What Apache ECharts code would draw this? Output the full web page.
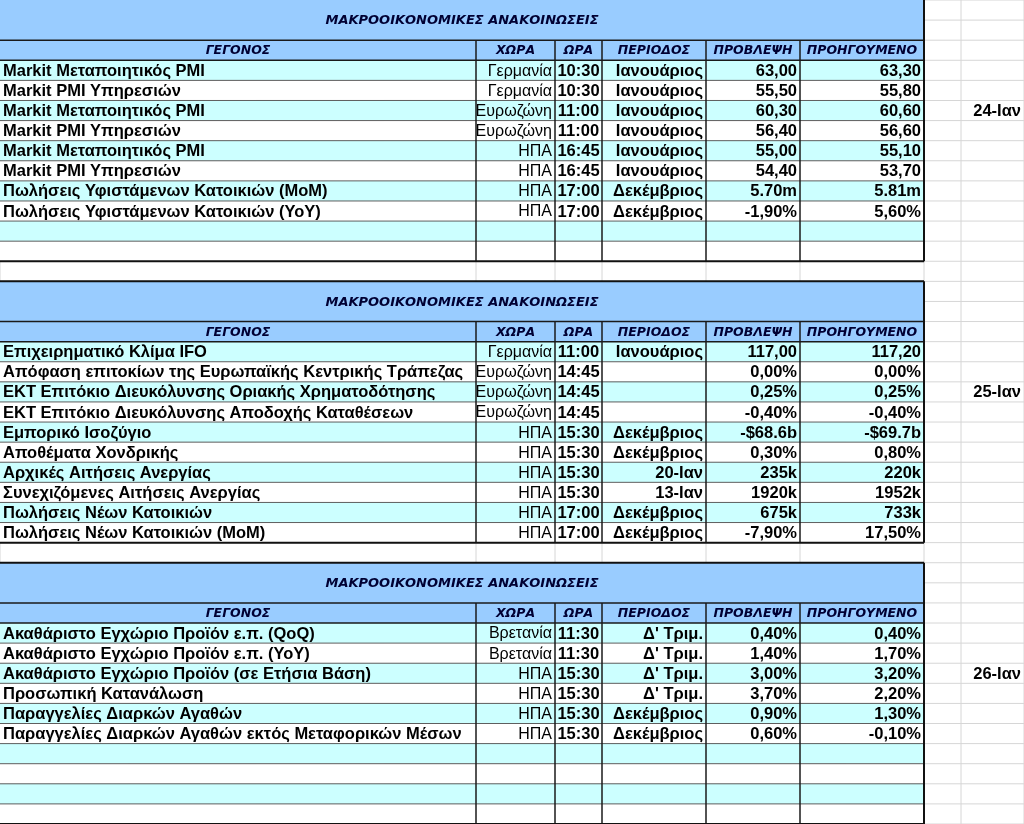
<!DOCTYPE html>
<html><head><meta charset="utf-8">
<script src="https://cdn.jsdelivr.net/npm/echarts@6/dist/echarts.min.js"></script>
<style>html,body{margin:0;padding:0;background:#fff}#c{width:1024px;height:824px}</style>
</head><body><div id="c"></div><script>
// ---------- DATA ----------
const tableTitle = 'ΜΑΚΡΟΟΙΚΟΝΟΜΙΚΕΣ ΑΝΑΚΟΙΝΩΣΕΙΣ';
const headers = ['ΓΕΓΟΝΟΣ', 'ΧΩΡΑ', 'ΩΡΑ', 'ΠΕΡΙΟΔΟΣ', 'ΠΡΟΒΛΕΨΗ', 'ΠΡΟΗΓΟΥΜΕΝΟ'];
const dates = ['24-Ιαν', '25-Ιαν', '26-Ιαν'];

const events1 = ['Markit Μεταποιητικός PMI', 'Markit PMI Υπηρεσιών', 'Markit Μεταποιητικός PMI', 'Markit PMI Υπηρεσιών',
  'Markit Μεταποιητικός PMI', 'Markit PMI Υπηρεσιών', 'Πωλήσεις Υφιστάμενων Κατοικιών (MoM)', 'Πωλήσεις Υφιστάμενων Κατοικιών (YoY)'];
const countries1 = ['Γερμανία', 'Γερμανία', 'Ευρωζώνη', 'Ευρωζώνη', 'ΗΠΑ', 'ΗΠΑ', 'ΗΠΑ', 'ΗΠΑ'];
const times1 = ['10:30', '10:30', '11:00', '11:00', '16:45', '16:45', '17:00', '17:00'];
const periods1 = ['Ιανουάριος', 'Ιανουάριος', 'Ιανουάριος', 'Ιανουάριος', 'Ιανουάριος', 'Ιανουάριος', 'Δεκέμβριος', 'Δεκέμβριος'];
const forecasts1 = ['63,00', '55,50', '60,30', '56,40', '55,00', '54,40', '5.70m', '-1,90%'];
const previous1 = ['63,30', '55,80', '60,60', '56,60', '55,10', '53,70', '5.81m', '5,60%'];

const events2 = ['Επιχειρηματικό Κλίμα IFO', 'Απόφαση επιτοκίων της Ευρωπαϊκής Κεντρικής Τράπεζας',
  'ΕΚΤ Επιτόκιο Διευκόλυνσης Οριακής Χρηματοδότησης', 'ΕΚΤ Επιτόκιο Διευκόλυνσης Αποδοχής Καταθέσεων',
  'Εμπορικό Ισοζύγιο', 'Αποθέματα Χονδρικής', 'Αρχικές Αιτήσεις Ανεργίας', 'Συνεχιζόμενες Αιτήσεις Ανεργίας',
  'Πωλήσεις Νέων Κατοικιών', 'Πωλήσεις Νέων Κατοικιών (MoM)'];
const countries2 = ['Γερμανία', 'Ευρωζώνη', 'Ευρωζώνη', 'Ευρωζώνη', 'ΗΠΑ', 'ΗΠΑ', 'ΗΠΑ', 'ΗΠΑ', 'ΗΠΑ', 'ΗΠΑ'];
const times2 = ['11:00', '14:45', '14:45', '14:45', '15:30', '15:30', '15:30', '15:30', '17:00', '17:00'];
const periods2 = ['Ιανουάριος', '', '', '', 'Δεκέμβριος', 'Δεκέμβριος', '20-Ιαν', '13-Ιαν', 'Δεκέμβριος', 'Δεκέμβριος'];
const forecasts2 = ['117,00', '0,00%', '0,25%', '-0,40%', '-$68.6b', '0,30%', '235k', '1920k', '675k', '-7,90%'];
const previous2 = ['117,20', '0,00%', '0,25%', '-0,40%', '-$69.7b', '0,80%', '220k', '1952k', '733k', '17,50%'];

const events3 = ['Ακαθάριστο Εγχώριο Προϊόν ε.π. (QoQ)', 'Ακαθάριστο Εγχώριο Προϊόν ε.π. (YoY)',
  'Ακαθάριστο Εγχώριο Προϊόν (σε Ετήσια Βάση)', 'Προσωπική Κατανάλωση', 'Παραγγελίες Διαρκών Αγαθών',
  'Παραγγελίες Διαρκών Αγαθών εκτός Μεταφορικών Μέσων'];
const countries3 = ['Βρετανία', 'Βρετανία', 'ΗΠΑ', 'ΗΠΑ', 'ΗΠΑ', 'ΗΠΑ'];
const times3 = ['11:30', '11:30', '15:30', '15:30', '15:30', '15:30'];
const periods3 = ['Δ\' Τριμ.', 'Δ\' Τριμ.', 'Δ\' Τριμ.', 'Δ\' Τριμ.', 'Δεκέμβριος', 'Δεκέμβριος'];
const forecasts3 = ['0,40%', '1,40%', '3,00%', '3,70%', '0,90%', '0,60%'];
const previous3 = ['0,40%', '1,70%', '3,20%', '2,20%', '1,30%', '-0,10%'];

// ---------- LAYOUT / STYLE ----------
const colEdges = [0, 476, 555, 602, 706, 800, 924, 961, 1024];
const totalRows = 41, blockRows = 14, dataRowCount = 10;
const colAlign = ['left', 'right', 'center', 'right', 'right', 'right'];
const FONT_B = 'bold 16.5px "Liberation Sans", Arial, sans-serif';
const FONT_N = '16px "Liberation Sans", Arial, sans-serif';
const FONT_H = 'italic bold 12.5px "DejaVu Sans", Verdana, sans-serif';
const FONT_T = 'italic bold 13px "DejaVu Sans", Verdana, sans-serif';
const C_HEAD = '#99CCFF', C_ALT = '#CCFFFF', C_HTEXT = '#000033';

const sections = [
  { cols: [events1, countries1, times1, periods1, forecasts1, previous1], date: dates[0] },
  { cols: [events2, countries2, times2, periods2, forecasts2, previous2], date: dates[1] },
  { cols: [events3, countries3, times3, periods3, forecasts3, previous3], date: dates[2] }
];

const items = [];
const W = colEdges[colEdges.length - 1], TW = colEdges[6];
// background spreadsheet gridlines
for (let r = 0; r <= totalRows; r++) items.push({ k: 'line', x0: 0, x1: W, r0: r, r1: r, stroke: '#d6d6d6', lw: 1 });
colEdges.forEach(x => items.push({ k: 'line', x0: x, x1: x, r0: 0, r1: totalRows, stroke: '#d6d6d6', lw: 1 }));

sections.forEach((s, si) => {
  const r0 = si * blockRows;
  // title
  items.push({ k: 'rect', x0: 0, x1: TW, r0: r0, r1: r0 + 2, fill: C_HEAD });
  items.push({ k: 'text', x0: 0, x1: TW, r0: r0, r1: r0 + 2, text: tableTitle, align: 'center', font: FONT_T, color: C_HTEXT });
  // header
  items.push({ k: 'rect', x0: 0, x1: TW, r0: r0 + 2, r1: r0 + 3, fill: C_HEAD });
  headers.forEach((h, c) => items.push({ k: 'text', x0: colEdges[c], x1: colEdges[c + 1], r0: r0 + 2, r1: r0 + 3, text: h, align: 'center', font: FONT_H, color: C_HTEXT }));
  // data rows
  for (let i = 0; i < dataRowCount; i++) {
    const rr = r0 + 3 + i;
    items.push({ k: 'rect', x0: 0, x1: TW, r0: rr, r1: rr + 1, fill: i % 2 === 0 ? C_ALT : '#ffffff' });
    s.cols.forEach((col, c) => {
      const t = col[i];
      if (!t) return;
      items.push({ k: 'text', x0: colEdges[c], x1: colEdges[c + 1], r0: rr, r1: rr + 1, text: t, align: colAlign[c],
        font: c === 1 ? FONT_N : FONT_B, color: '#000' });
    });
  }
  // row separators
  for (let i = 1; i < dataRowCount; i++) {
    items.push({ k: 'line', x0: 0, x1: TW, r0: r0 + 3 + i, r1: r0 + 3 + i, stroke: '#5e5e5e', lw: 1 });
  }
  // column separators
  for (let c = 1; c < 6; c++) {
    items.push({ k: 'line', x0: colEdges[c], x1: colEdges[c], r0: r0 + 2, r1: r0 + 13, stroke: '#1a1a1a', lw: 1.5 });
  }
  // title / header lines
  items.push({ k: 'line', x0: 0, x1: TW, r0: r0 + 2, r1: r0 + 2, stroke: '#1a1a1a', lw: 1.5 });
  items.push({ k: 'line', x0: 0, x1: TW, r0: r0 + 3, r1: r0 + 3, stroke: '#1a1a1a', lw: 1.5 });
  // outer border
  if (si > 0) items.push({ k: 'line', x0: 0, x1: TW, r0: r0, r1: r0, stroke: '#111', lw: 2 });
  items.push({ k: 'line', x0: 0, x1: TW, r0: r0 + 13, r1: r0 + 13, stroke: '#111', lw: 2 });
  items.push({ k: 'line', x0: TW, x1: TW, r0: r0, r1: r0 + 13, stroke: '#111', lw: 2 });
  // date label
  items.push({ k: 'text', x0: colEdges[7], x1: colEdges[8], r0: r0 + 5, r1: r0 + 6, text: s.date, align: 'right', font: FONT_B, color: '#000' });
});

function renderItem(params, api) {
  const it = items[api.value(2)];
  const a = api.coord([it.x0, it.r0]);
  const b = api.coord([it.x1, it.r1]);
  if (it.k === 'rect') {
    return { type: 'rect', shape: { x: a[0], y: a[1], width: b[0] - a[0], height: b[1] - a[1] }, style: { fill: it.fill } };
  }
  if (it.k === 'line') {
    return { type: 'line', shape: { x1: a[0], y1: a[1], x2: b[0], y2: b[1] }, style: { stroke: it.stroke, lineWidth: it.lw } };
  }
  const x = it.align === 'left' ? a[0] + 3 : it.align === 'right' ? b[0] - 3 : (a[0] + b[0]) / 2;
  return { type: 'text', style: { text: it.text, x: x, y: (a[1] + b[1]) / 2 + 1, align: it.align, verticalAlign: 'middle', font: it.font, fill: it.color } };
}

const chart = echarts.init(document.getElementById('c'), null, { renderer: 'canvas' });
chart.setOption({
  animation: false,
  grid: { left: 0, right: 0, top: 0, bottom: 0 },
  xAxis: { type: 'value', min: 0, max: W, show: false },
  yAxis: { type: 'value', min: 0, max: totalRows, inverse: true, show: false },
  series: [{
    type: 'custom', clip: false, silent: true,
    encode: { x: 0, y: 1 },
    data: items.map((_, i) => [0, 0, i]),
    renderItem: renderItem
  }]
});
</script></body></html>
